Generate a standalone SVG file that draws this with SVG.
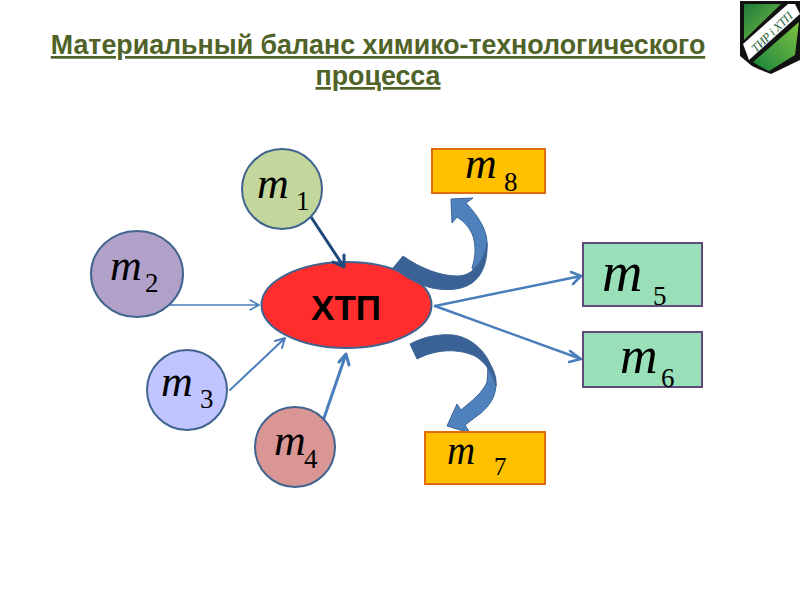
<svg xmlns="http://www.w3.org/2000/svg" width="800" height="600" viewBox="0 0 800 600">
<defs>
<linearGradient id="g1" x1="0" y1="0" x2="1" y2="1"><stop offset="0" stop-color="#1d7a3c"/><stop offset="1" stop-color="#7fc241"/></linearGradient>
<linearGradient id="g2" x1="1" y1="0" x2="0" y2="1"><stop offset="0" stop-color="#7fc241"/><stop offset="1" stop-color="#17843d"/></linearGradient>
</defs>
<style>
.title{font:bold 26.800px "Liberation Sans",Arial,sans-serif;fill:#4f6228;text-anchor:middle;text-decoration:underline}
.m{font-family:"Liberation Serif","Times New Roman",serif;font-style:italic;fill:#000}
.s{font-family:"Liberation Serif","Times New Roman",serif;fill:#000;font-size:27px}
.c{stroke:#41648f;stroke-width:2}
.l{fill:none;stroke:#4a7ebb;stroke-linecap:round;stroke-linejoin:round}
.light{fill:#4f81bd;stroke:#3a6595;stroke-width:1}
.dark{fill:#3b6296;stroke:#3a6595;stroke-width:1}
</style>
<rect width="800" height="600" fill="#fff"/>
<g id="title"><text class="title" x="378" y="54">Материальный баланс химико-технологического</text><text class="title" x="378" y="85">процесса</text></g>
<g id="logo">
<path d="M740 1H800V60L771 74Q760 70 752 66L740 56Z" fill="#111"/>
<path d="M744 4H781L744 40Z" fill="url(#g1)"/>
<path d="M799 22L795 55L769 71Q760 67 753 62Z" fill="url(#g2)"/>
<path d="M743 44L788 4H795L800 14L749 60Z" fill="#fff"/>
<g transform="rotate(-44 772 32)"><text x="746" y="36" font-family="Liberation Serif,serif" font-style="italic" font-size="12" fill="#1f5f3a" textLength="52" lengthAdjust="spacing">ТИР і ХТП</text></g>
</g>
<g id="node-xtp"><ellipse cx="346.500" cy="305" rx="85" ry="43" fill="#ff2d2d" stroke="#41648f" stroke-width="2"/><text x="346" y="320" font-family="Liberation Sans,Arial,sans-serif" font-weight="bold" font-size="35" text-anchor="middle">ХТП</text></g>
<g id="connectors">
<path class="l" style="stroke:#1f497d;stroke-width:3" d="M311 217L344 267M344 255V267L333 262"/>
<path class="l" style="stroke-width:1.500" d="M170 305H259M250 300L259 305L250 310"/>
<path class="l" style="stroke-width:2" d="M230 390L285 338M275 341L285 338L282 348"/>
<path class="l" style="stroke-width:3" d="M324 418L346 354M339 362L346 354L349 365"/>
<path class="l" style="stroke-width:2.500" d="M435 306L581 276M571 272L581 276L573 284"/>
<path class="l" style="stroke-width:2.500" d="M435 306L581 359M570 351L581 359L569 362"/>
<path class="light" d="M451 199L473 198L466 203C480 218 488 232 487 246C486 258 482 268 477 275L472 268C475 258 476 250 474 240C472 230 465 222 457 217L452 223Z"/>
<path class="dark" d="M403 256C420 268 440 276 457 276C466 276 472 272 477 266C482 260 486 252 487 243C488 262 482 276 472 283C462 290 447 291 432 288C418 285 404 276 393 268Z"/>
<path class="light" d="M447 426L457 404L461 410C473 400 483 392 487 382C488 374 488 366 487 360C492 366 497 376 496 386C495 398 489 406 481 413L465 425L470 433Z"/>
<path class="dark" d="M410 344C425 336 440 334 453 335C470 337 485 350 491 366C494 373 496 380 496 386C492 372 485 362 475 356C462 350 440 347 417 359Z"/>
</g>
<g id="node-m1"><circle class="c" cx="282" cy="189" r="40" fill="#c3d69b"/><text class="m" x="257" y="198" font-size="44">m</text><text class="s" x="296" y="210">1</text></g>
<g id="node-m2"><ellipse class="c" cx="137" cy="274" rx="46" ry="43" fill="#b1a0c7"/><text class="m" x="110" y="280" font-size="44">m</text><text class="s" x="145" y="292">2</text></g>
<g id="node-m3"><circle class="c" cx="187" cy="390" r="40" fill="#c0c4ff"/><text class="m" x="161" y="396" font-size="44">m</text><text class="s" x="200" y="408">3</text></g>
<g id="node-m4"><circle class="c" cx="295" cy="447" r="40" fill="#d99694"/><text class="m" x="274" y="455" font-size="44">m</text><text class="s" x="304" y="468">4</text></g>
<g id="node-m8"><rect x="432" y="149" width="113" height="44" fill="#ffc000" stroke="#e36c0a" stroke-width="2"/><text class="m" x="465" y="178" font-size="44">m</text><text class="s" x="504" y="191">8</text></g>
<g id="node-m7"><rect x="425" y="432" width="120" height="52" fill="#ffc000" stroke="#e36c0a" stroke-width="2"/><text class="m" x="447" y="464" font-size="39">m</text><text class="s" x="494" y="475" style="font-size:25px">7</text></g>
<g id="node-m5"><rect x="583" y="243" width="119" height="63" fill="#99e0b8" stroke="#604a7b" stroke-width="2"/><text class="m" x="602" y="291" font-size="56">m</text><text class="s" x="653" y="305">5</text></g>
<g id="node-m6"><rect x="583" y="332" width="119" height="55" fill="#99e0b8" stroke="#604a7b" stroke-width="2"/><text class="m" x="620" y="373" font-size="52">m</text><text class="s" x="661" y="387">6</text></g>
</svg>
